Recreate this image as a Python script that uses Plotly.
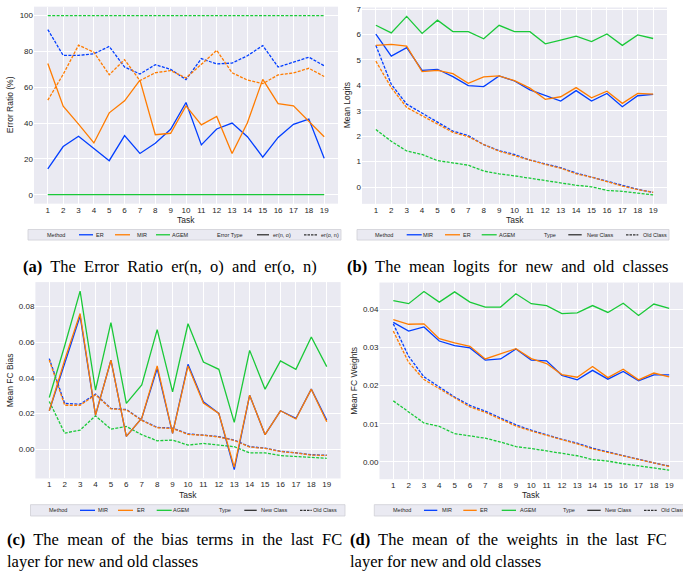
import plotly.graph_objects as go

W, H = 683, 571

tasks = [1, 2, 3, 4, 5, 6, 7, 8, 9, 10, 11, 12, 13, 14, 15, 16, 17, 18, 19]
task_labels = [str(t) for t in tasks]

# ---- (a) Error ratio (%) ----
a_er_no = [14.4, 26.9, 32.6, 26.0, 19.0, 33.0, 23.0, 28.7, 36.5, 51.5, 27.8, 36.7, 40.0, 32.4, 21.0, 32.0, 39.3, 42.2, 20.4]
a_er_on = [92.2, 77.8, 77.8, 78.7, 82.8, 71.3, 67.4, 72.6, 70.0, 64.3, 76.0, 73.0, 73.5, 77.6, 83.3, 71.3, 74.0, 76.8, 72.0]
a_mir_no = [73.3, 49.4, 39.4, 28.9, 45.7, 52.4, 64.0, 33.5, 34.3, 49.6, 39.0, 43.7, 23.0, 40.2, 64.4, 50.9, 49.6, 40.7, 32.4]
a_mir_on = [52.8, 67.2, 83.5, 79.6, 67.0, 75.4, 63.7, 68.1, 69.3, 65.2, 72.8, 80.6, 68.1, 64.0, 62.0, 66.9, 68.0, 70.6, 66.0]
a_agem_no = [0, 0, 0, 0, 0, 0, 0, 0, 0, 0, 0, 0, 0, 0, 0, 0, 0, 0, 0]
a_agem_on = [100, 100, 100, 100, 100, 100, 100, 100, 100, 100, 100, 100, 100, 100, 100, 100, 100, 100, 100]

# ---- (b) Mean logits ----
b_mir_new = [6.01, 5.15, 5.48, 4.59, 4.63, 4.34, 3.99, 3.95, 4.37, 4.17, 3.82, 3.59, 3.38, 3.79, 3.38, 3.68, 3.16, 3.59, 3.64]
b_er_new = [5.57, 5.61, 5.54, 4.54, 4.59, 4.46, 4.08, 4.33, 4.37, 4.18, 3.89, 3.45, 3.55, 3.91, 3.51, 3.77, 3.29, 3.68, 3.65]
b_agem_new = [6.36, 6.06, 6.71, 6.04, 6.56, 6.11, 6.11, 5.83, 6.36, 6.11, 6.11, 5.63, 5.78, 5.93, 5.72, 6.02, 5.57, 5.98, 5.84]
b_mir_old = [5.57, 4.04, 3.26, 2.91, 2.58, 2.20, 2.02, 1.67, 1.43, 1.28, 1.06, 0.91, 0.76, 0.55, 0.39, 0.22, 0.07, -0.09, -0.21]
b_er_old = [4.95, 3.91, 3.13, 2.80, 2.50, 2.15, 1.98, 1.67, 1.41, 1.24, 1.04, 0.89, 0.74, 0.52, 0.39, 0.20, 0.04, -0.10, -0.21]
b_agem_old = [2.26, 1.80, 1.42, 1.28, 1.04, 0.96, 0.86, 0.63, 0.52, 0.44, 0.35, 0.26, 0.18, 0.07, 0.01, -0.13, -0.17, -0.25, -0.31]

# ---- (c) Mean FC bias ----
c_mir_new = [0.0216, 0.0480, 0.0746, 0.0192, 0.0499, 0.0073, 0.0175, 0.0452, 0.0090, 0.0476, 0.0266, 0.0201, -0.0113, 0.0303, 0.0082, 0.0216, 0.0173, 0.0337, 0.0164]
c_er_new = [0.0216, 0.0500, 0.0760, 0.0192, 0.0499, 0.0073, 0.0175, 0.0467, 0.0090, 0.0467, 0.0259, 0.0201, -0.0100, 0.0303, 0.0082, 0.0216, 0.0170, 0.0337, 0.0154]
c_agem_new = [0.0290, 0.0580, 0.0886, 0.0331, 0.0709, 0.0257, 0.0361, 0.0670, 0.0322, 0.0703, 0.0489, 0.0448, 0.0151, 0.0554, 0.0337, 0.0495, 0.0448, 0.0629, 0.0463]
c_mir_old = [0.0508, 0.0257, 0.0253, 0.0309, 0.0229, 0.0223, 0.0164, 0.0123, 0.0119, 0.0086, 0.0080, 0.0071, 0.0052, 0.0015, 0.0007, -0.0011, -0.0019, -0.0030, -0.0033]
c_er_old = [0.0500, 0.0247, 0.0247, 0.0305, 0.0227, 0.0221, 0.0162, 0.0121, 0.0117, 0.0084, 0.0079, 0.0069, 0.0050, 0.0013, 0.0006, -0.0012, -0.0020, -0.0032, -0.0034]
c_agem_old = [0.0268, 0.0091, 0.0108, 0.0188, 0.0113, 0.0128, 0.0082, 0.0048, 0.0052, 0.0024, 0.0033, 0.0026, 0.0015, -0.0020, -0.0020, -0.0035, -0.0040, -0.0048, -0.0050]

# ---- (d) Mean FC weights ----
d_mir_new = [0.0366, 0.0343, 0.0354, 0.0317, 0.0305, 0.0299, 0.0267, 0.0270, 0.0296, 0.0267, 0.0265, 0.0227, 0.0215, 0.0240, 0.0217, 0.0237, 0.0213, 0.0228, 0.0228]
d_er_new = [0.0373, 0.0361, 0.0362, 0.0323, 0.0312, 0.0303, 0.0270, 0.0284, 0.0297, 0.0271, 0.0258, 0.0229, 0.0222, 0.0250, 0.0221, 0.0243, 0.0215, 0.0233, 0.0223]
d_agem_new = [0.0423, 0.0415, 0.0447, 0.0419, 0.0446, 0.0419, 0.0406, 0.0406, 0.0441, 0.0415, 0.0410, 0.0389, 0.0391, 0.0410, 0.0392, 0.0416, 0.0384, 0.0414, 0.0403]
d_mir_old = [0.0362, 0.0277, 0.0223, 0.0197, 0.0170, 0.0148, 0.0133, 0.0115, 0.0097, 0.0083, 0.0070, 0.0059, 0.0049, 0.0036, 0.0026, 0.0016, 0.0007, -0.0003, -0.0011]
d_er_old = [0.0343, 0.0261, 0.0216, 0.0192, 0.0167, 0.0144, 0.0130, 0.0111, 0.0094, 0.0081, 0.0070, 0.0058, 0.0047, 0.0034, 0.0025, 0.0015, 0.0006, -0.0003, -0.0012]
d_agem_old = [0.0160, 0.0130, 0.0102, 0.0093, 0.0074, 0.0068, 0.0062, 0.0052, 0.0040, 0.0035, 0.0029, 0.0023, 0.0016, 0.0006, 0.0002, -0.0005, -0.0010, -0.0016, -0.0022]

BLUE = '#023eff'
ORANGE = '#ff7c00'
GREEN = '#1ac938'
DASH = '3px,1.4px'
LW = 1.3
TXT = '#262626'
SANS = 'Liberation Sans, Arial, sans-serif'
SERIF = 'Liberation Serif, Times New Roman, serif'


def X(px):
    return px / W


def Y(py):
    return 1 - py / H


fig = go.Figure()


def add_line(xa, ya, yvals, color, dashed):
    fig.add_trace(go.Scatter(
        x=tasks, y=yvals, mode='lines', xaxis=xa, yaxis=ya,
        line=dict(color=color, width=LW, dash=DASH if dashed else 'solid'),
        hoverinfo='skip'))


# panel a: ER blue, MIR orange, AGEM green
add_line('x', 'y', a_er_on, BLUE, True)
add_line('x', 'y', a_mir_on, ORANGE, True)
add_line('x', 'y', a_agem_on, GREEN, True)
add_line('x', 'y', a_er_no, BLUE, False)
add_line('x', 'y', a_mir_no, ORANGE, False)
add_line('x', 'y', a_agem_no, GREEN, False)

# panel b: MIR blue, ER orange, AGEM green
add_line('x2', 'y2', b_mir_old, BLUE, True)
add_line('x2', 'y2', b_er_old, ORANGE, True)
add_line('x2', 'y2', b_agem_old, GREEN, True)
add_line('x2', 'y2', b_mir_new, BLUE, False)
add_line('x2', 'y2', b_er_new, ORANGE, False)
add_line('x2', 'y2', b_agem_new, GREEN, False)

# panel c
add_line('x3', 'y3', c_mir_old, BLUE, True)
add_line('x3', 'y3', c_er_old, ORANGE, True)
add_line('x3', 'y3', c_agem_old, GREEN, True)
add_line('x3', 'y3', c_mir_new, BLUE, False)
add_line('x3', 'y3', c_er_new, ORANGE, False)
add_line('x3', 'y3', c_agem_new, GREEN, False)

# panel d
add_line('x4', 'y4', d_mir_old, BLUE, True)
add_line('x4', 'y4', d_er_old, ORANGE, True)
add_line('x4', 'y4', d_agem_old, GREEN, True)
add_line('x4', 'y4', d_mir_new, BLUE, False)
add_line('x4', 'y4', d_er_new, ORANGE, False)
add_line('x4', 'y4', d_agem_new, GREEN, False)

tickfont = dict(family=SANS, size=8, color=TXT)


def xax(x0, x1, anchor):
    return dict(domain=[X(x0), X(x1)], range=[0.1, 19.9], anchor=anchor,
                tickmode='array', tickvals=tasks, ticktext=task_labels,
                showgrid=True, gridcolor='white', gridwidth=1, zeroline=False,
                showline=False, ticks='', tickfont=tickfont, fixedrange=True)


def yax(y0, y1, rng, anchor, tickvals, fmt):
    return dict(domain=[Y(y1), Y(y0)], range=rng, anchor=anchor,
                tickmode='array', tickvals=tickvals,
                ticktext=[format(v, fmt) for v in tickvals],
                showgrid=True, gridcolor='white', gridwidth=1, zeroline=False,
                showline=False, ticks='', tickfont=tickfont, fixedrange=True)


a_ticks = [0, 20, 40, 60, 80, 100]
b_ticks = [0, 1, 2, 3, 4, 5, 6, 7]
c_ticks = [0.00, 0.02, 0.04, 0.06, 0.08]
d_ticks = [0.00, 0.01, 0.02, 0.03, 0.04]

fig.update_layout(
    width=W, height=H, margin=dict(l=0, r=0, t=0, b=0),
    paper_bgcolor='white', plot_bgcolor='#eaeaf2', showlegend=False,
    xaxis=xax(34, 338, 'y'),
    yaxis=yax(3.7, 201.7, [-5, 105], 'x', a_ticks, 'd'),
    xaxis2=xax(362, 667, 'y2'),
    yaxis2=yax(4.5, 201.9, [-0.66, 7.06], 'x2', b_ticks, 'd'),
    xaxis3=xax(35.4, 340.6, 'y3'),
    yaxis3=yax(280.6, 478, [-0.0163, 0.0936], 'x3', c_ticks, '.2f'),
    xaxis4=xax(379.5, 683, 'y4'),
    yaxis4=yax(281, 478.7, [-0.00455, 0.04705], 'x4', d_ticks, '.2f'),
)

annotations = []
shapes = []


def text(px, py, s, size, family=SANS, color=TXT, xanchor='left', angle=0):
    annotations.append(dict(
        x=X(px), y=Y(py), xref='paper', yref='paper', text=s, showarrow=False,
        xanchor=xanchor, yanchor='middle', textangle=angle,
        font=dict(family=family, size=size, color=color),
        borderpad=0, borderwidth=0))


# axis titles
text(186, 218.3, 'Task', 8.5, xanchor='center')
text(514.5, 218.3, 'Task', 8.5, xanchor='center')
text(188, 495, 'Task', 8.5, xanchor='center')
text(531, 495, 'Task', 8.5, xanchor='center')
text(10, 102.7, 'Error Ratio (%)', 8.5, xanchor='center', angle=-90)
text(346.7, 103.2, 'Mean Logits', 8.5, xanchor='center', angle=-90)
text(10, 379.3, 'Mean FC Bias', 8.5, xanchor='center', angle=-90)
text(354, 379.8, 'Mean FC Weights', 8.5, xanchor='center', angle=-90)


def legend(x0, x1, y0, y1, items):
    shapes.append(dict(type='rect', xref='paper', yref='paper',
                       x0=X(x0), x1=X(x1), y0=Y(y1), y1=Y(y0),
                       fillcolor='#eaeaf2', line=dict(color='#cfcfd6', width=0.8),
                       layer='above'))
    yc = (y0 + y1) / 2
    for label, tx, lx0, lx1, color, dashed in items:
        if lx0 is not None:
            shapes.append(dict(type='line', xref='paper', yref='paper',
                               x0=X(lx0), x1=X(lx1), y0=Y(yc), y1=Y(yc),
                               line=dict(color=color, width=1.3,
                                         dash='2.5px,1px' if dashed else 'solid'),
                               layer='above'))
        text(tx, yc, label, 5.5)


DARK = '#333333'
legend(28, 341, 227.7, 238.3, [
    ('Method', 47, None, None, None, False),
    ('ER', 95.5, 79, 93, BLUE, False),
    ('MIR', 136.5, 115, 130, ORANGE, False),
    ('AGEM', 171.5, 156, 170, GREEN, False),
    ('Error Type', 217, None, None, None, False),
    ('er(n, o)', 272.5, 257, 269, DARK, False),
    ('er(o, n)', 320.5, 304, 317, DARK, True),
])
legend(357, 669, 227.7, 238.3, [
    ('Method', 374.5, None, None, None, False),
    ('MIR', 423, 406.7, 421.7, BLUE, False),
    ('ER', 462.5, 445, 460, ORANGE, False),
    ('AGEM', 499, 481.7, 496.7, GREEN, False),
    ('Type', 544, None, None, None, False),
    ('New Class', 586.5, 568.3, 581.7, DARK, False),
    ('Old Class', 642.5, 626, 638.3, DARK, True),
])
legend(30.5, 345, 504.3, 515.7, [
    ('Method', 49, None, None, None, False),
    ('MIR', 97.5, 80, 95, BLUE, False),
    ('ER', 136.5, 118, 133, ORANGE, False),
    ('AGEM', 173, 156.7, 171.7, GREEN, False),
    ('Type', 219, None, None, None, False),
    ('New Class', 261, 244.3, 256.7, DARK, False),
    ('Old Class', 313, 300, 311.7, DARK, True),
])
legend(374.3, 690, 504.3, 515.7, [
    ('Method', 393, None, None, None, False),
    ('MIR', 441.5, 424, 437.3, BLUE, False),
    ('ER', 480, 463.3, 476.7, ORANGE, False),
    ('AGEM', 520, 501.7, 516, GREEN, False),
    ('Type', 563, None, None, None, False),
    ('New Class', 605, 587.3, 600.7, DARK, False),
    ('Old Class', 660.5, 644, 656.7, DARK, True),
])

# captions
SP = '\u00a0 '
cap_a = '<b>(a)</b>' + SP + 'The' + SP + 'Error' + SP + 'Ratio' + SP + 'er(n,' + SP + 'o)' + SP + 'and' + SP + 'er(o,' + SP + 'n)'
cap_b = '<b>(b)</b>' + SP + 'The' + SP + 'mean' + SP + 'logits' + SP + 'for' + SP + 'new' + SP + 'and' + SP + 'old' + SP + 'classes'
cap_c1 = '<b>(c)</b>' + SP + 'The' + SP + 'mean' + SP + 'of' + SP + 'the' + SP + 'bias' + SP + 'terms' + SP + 'in' + SP + 'the' + SP + 'last' + SP + 'FC'
cap_d1 = '<b>(d)</b>' + SP + 'The' + SP + 'mean' + SP + 'of' + SP + 'the' + SP + 'weights' + SP + 'in' + SP + 'the' + SP + 'last' + SP + 'FC'
cap_2 = 'layer for new and old classes'

CAP = 16.5
text(22.7, 265, cap_a, CAP, family=SERIF, color='black')
text(347, 265, cap_b, CAP, family=SERIF, color='black')
text(6.7, 539.5, cap_c1, CAP, family=SERIF, color='black')
text(6.7, 561.5, cap_2, CAP, family=SERIF, color='black')
text(350, 539.5, cap_d1, CAP, family=SERIF, color='black')
text(350, 561.5, cap_2, CAP, family=SERIF, color='black')

fig.update_layout(annotations=annotations, shapes=shapes)

fig.write_html('out.html',
               config={'displayModeBar': False, 'staticPlot': True},
               post_script="document.body.style.margin='0px';document.body.style.overflow='hidden';")
